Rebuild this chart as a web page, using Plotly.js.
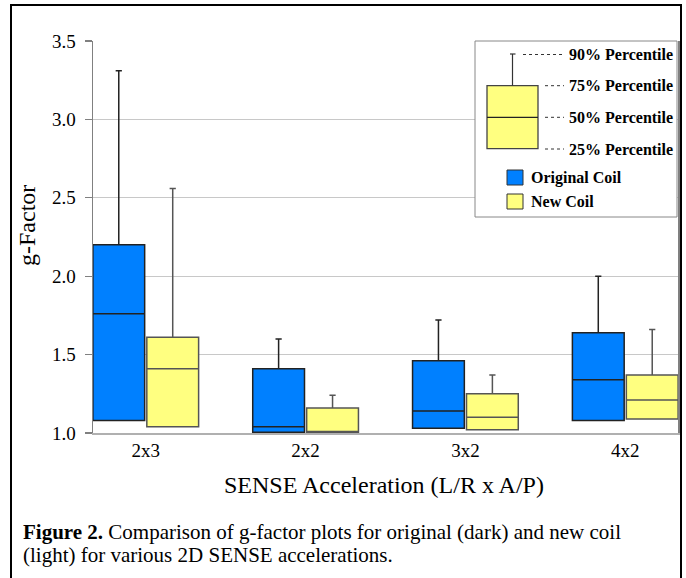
<!DOCTYPE html>
<html>
<head>
<meta charset="utf-8">
<script src="https://cdn.plot.ly/plotly-3.0.1.min.js"></script>
<style>
html,body{margin:0;padding:0;background:#fff;}
#chart{width:686px;height:578px;}
</style>
</head>
<body>
<div id="chart"></div>
<script>
// ---- data ----
var categories = ['2x3', '2x2', '3x2', '4x2'];
var originalP25 = [1.08, 1.005, 1.03, 1.08];
var originalP50 = [1.76, 1.04, 1.14, 1.34];
var originalP75 = [2.20, 1.41, 1.46, 1.64];
var originalP90 = [3.31, 1.60, 1.72, 2.00];
var newP25 = [1.04, 1.00, 1.02, 1.09];
var newP50 = [1.41, 1.01, 1.10, 1.21];
var newP75 = [1.61, 1.16, 1.25, 1.37];
var newP90 = [2.56, 1.24, 1.37, 1.66];
var yTicks = [1.0, 1.5, 2.0, 2.5, 3.0, 3.5];
var seriesNames = ['Original Coil', 'New Coil'];
var percentileLabels = ['90% Percentile', '75% Percentile', '50% Percentile', '25% Percentile'];

var BLUE = '#0080ff', YELLOW = '#ffff80';
var SERIF = 'Liberation Serif, Times New Roman, serif';

var traces = [
  {type: 'box', name: seriesNames[0], x: categories,
   q1: originalP25, median: originalP50, q3: originalP75,
   lowerfence: originalP25, upperfence: originalP90,
   fillcolor: BLUE, line: {color: '#222222', width: 1.5},
   whiskerwidth: 0.12, hoverinfo: 'skip', showlegend: false},
  {type: 'box', name: seriesNames[1], x: categories,
   q1: newP25, median: newP50, q3: newP75,
   lowerfence: newP25, upperfence: newP90,
   fillcolor: YELLOW, line: {color: '#555555', width: 1.5},
   whiskerwidth: 0.12, hoverinfo: 'skip', showlegend: false}
];

// helpers: pixel -> paper (plot area x 93..678, y 41..433)
function px(x){ return (x - 93) / 585; }
function py(y){ return (433 - y) / 392; }

var shapes = [];
var annotations = [];

// outer frame
shapes.push({type:'rect', xref:'paper', yref:'paper', x0:px(11), x1:px(681), y0:py(600), y1:py(5),
  line:{color:'#000', width:2}, fillcolor:'rgba(0,0,0,0)', layer:'above'});

// legend box
shapes.push({type:'rect', xref:'paper', yref:'paper', x0:px(475), x1:px(677), y0:py(217), y1:py(41),
  line:{color:'#888', width:1}, fillcolor:'#fff', layer:'above'});
// illustrative box
shapes.push({type:'rect', xref:'paper', yref:'paper', x0:px(487), x1:px(538), y0:py(148.7), y1:py(85.7),
  line:{color:'#444', width:1.3}, fillcolor:YELLOW, layer:'above'});
shapes.push({type:'line', xref:'paper', yref:'paper', x0:px(487), x1:px(538), y0:py(117.3), y1:py(117.3),
  line:{color:'#222', width:1.3}, layer:'above'});
shapes.push({type:'line', xref:'paper', yref:'paper', x0:px(512.5), x1:px(512.5), y0:py(85.7), y1:py(54),
  line:{color:'#333', width:1.2}, layer:'above'});
shapes.push({type:'line', xref:'paper', yref:'paper', x0:px(510), x1:px(515.5), y0:py(54), y1:py(54),
  line:{color:'#333', width:1.2}, layer:'above'});
// dashed leaders
var leaderY = [54.5, 85.7, 117.3, 149];
var leaderX0 = [523, 545, 545, 545];
for (var i = 0; i < 4; i++) {
  shapes.push({type:'line', xref:'paper', yref:'paper', x0:px(leaderX0[i]), x1:px(564), y0:py(leaderY[i]), y1:py(leaderY[i]),
    line:{color:'#333', width:1, dash:'3px,3px'}, layer:'above'});
  annotations.push({xref:'paper', yref:'paper', x:px(567), y:py(leaderY[i]), xanchor:'left', yanchor:'middle',
    text:'<b>' + percentileLabels[i] + '</b>', showarrow:false, font:{family:SERIF, size:16, color:'#000'}});
}
// legend swatches
var swY = [[170, 185], [194, 209]];
var swC = [BLUE, YELLOW];
for (var j = 0; j < 2; j++) {
  shapes.push({type:'rect', xref:'paper', yref:'paper', x0:px(507), x1:px(523), y0:py(swY[j][1]), y1:py(swY[j][0]),
    line:{color:'#333', width:1}, fillcolor:swC[j], layer:'above'});
  annotations.push({xref:'paper', yref:'paper', x:px(529), y:py((swY[j][0] + swY[j][1]) / 2), xanchor:'left', yanchor:'middle',
    text:'<b>' + seriesNames[j] + '</b>', showarrow:false, font:{family:SERIF, size:16, color:'#000'}});
}

// axis titles
annotations.push({xref:'paper', yref:'paper', x:px(384), y:py(485), xanchor:'center', yanchor:'middle',
  text:'SENSE Acceleration (L/R x A/P)', showarrow:false, font:{family:SERIF, size:24, color:'#000'}});
annotations.push({xref:'paper', yref:'paper', x:px(27), y:py(226), xanchor:'center', yanchor:'middle', textangle:-90,
  text:'g-Factor', showarrow:false, font:{family:SERIF, size:24, color:'#000'}});

// caption
annotations.push({xref:'paper', yref:'paper', x:px(21), y:py(532), xanchor:'left', yanchor:'middle', align:'left',
  text:'<b>Figure 2.</b> Comparison of g-factor plots for original (dark) and new coil', showarrow:false,
  font:{family:SERIF, size:21, color:'#000'}});
annotations.push({xref:'paper', yref:'paper', x:px(21), y:py(555), xanchor:'left', yanchor:'middle', align:'left',
  text:'(light) for various 2D SENSE accelerations.', showarrow:false,
  font:{family:SERIF, size:21, color:'#000'}});

var layout = {
  width: 686, height: 578,
  margin: {l: 93, r: 8, t: 41, b: 145},
  paper_bgcolor: '#fff', plot_bgcolor: '#fff',
  boxmode: 'group', boxgap: 0.325, boxgroupgap: 0.04,
  showlegend: false,
  font: {family: SERIF, color: '#000'},
  xaxis: {
    type: 'category', range: [-0.33, 3.33], fixedrange: true,
    showline: true, linecolor: '#b0b0b0', linewidth: 1.5,
    ticks: '', showgrid: false, zeroline: false,
    tickfont: {family: SERIF, size: 19, color: '#000'}
  },
  yaxis: {
    range: [1.0, 3.5], tickvals: yTicks, tickformat: '.1f', fixedrange: true,
    showline: true, linecolor: '#808080', linewidth: 1.5, mirror: true,
    ticks: 'outside', ticklen: 7, tickcolor: '#808080', tickwidth: 1.2,
    ticklabelstandoff: 5,
    showgrid: true, gridcolor: '#c8c8c8', gridwidth: 1.2, zeroline: false,
    tickfont: {family: SERIF, size: 19, color: '#000'}
  },
  shapes: shapes,
  annotations: annotations
};

Plotly.newPlot('chart', traces, layout, {staticPlot: true});
</script>
</body>
</html>
